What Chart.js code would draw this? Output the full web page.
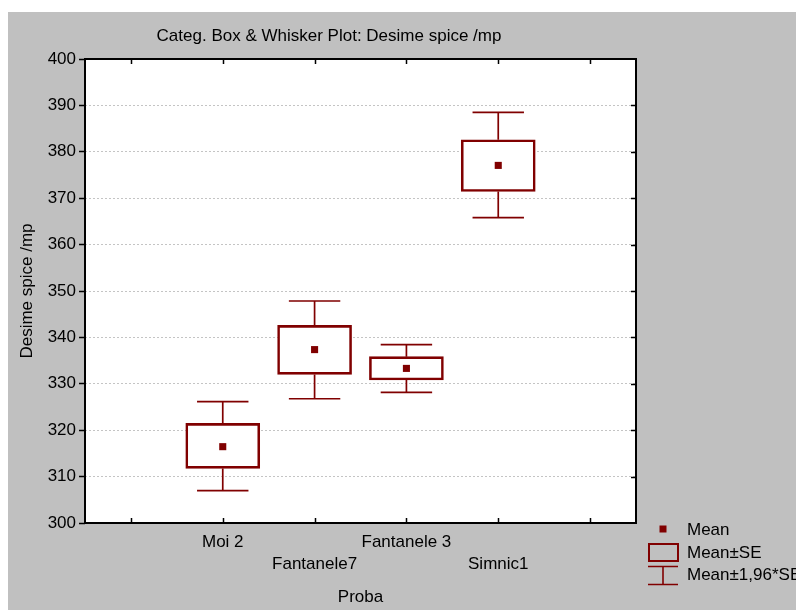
<!DOCTYPE html>
<html><head><meta charset="utf-8">
<script src="https://cdn.jsdelivr.net/npm/chart.js@4/dist/chart.umd.min.js"></script>
<style>html,body{margin:0;padding:0;background:#fff;overflow:hidden}#wrap{position:absolute;left:0;top:0;width:796px;height:610px}</style>
</head><body><div id="wrap"><canvas id="c" width="796" height="610"></canvas></div>
<script>
// ---- data ----
const categories = ['Moi 2', 'Fantanele7', 'Fantanele 3', 'Simnic1'];
const categoryPositions = [1, 2, 3, 4];
const means  = [316.45, 337.37, 333.32, 377.07];
const seLow  = [311.77, 332.03, 330.82, 371.45];
const seHigh = [321.47, 342.59, 335.84, 382.60];
const ciLow  = [306.96, 326.78, 328.15, 365.80];
const ciHigh = [326.14, 347.84, 338.43, 388.49];
const xTickValues = [0, 1, 2, 3, 4, 5];
const yMin = 300, yMax = 400, yStep = 10;
const xMin = -0.5, xMax = 5.5;
const titleText = 'Categ. Box & Whisker Plot: Desime spice /mp';
const yTitle = 'Desime spice /mp';
const xTitle = 'Proba';
const legendLabels = ['Mean', 'Mean±SE', 'Mean±1,96*SE'];

// ---- styles ----
const RED = '#800000';
const GRAY = '#c0c0c0';
const FONT = "'Liberation Sans', Arial, sans-serif";
const capHalf = 0.28;

Chart.defaults.font.family = FONT;
Chart.defaults.font.size = 17;
Chart.defaults.color = '#000';

const boxData = categoryPositions.map((x, i) => ({x: x, y: [seLow[i], seHigh[i]]}));
const meanData = categoryPositions.map((x, i) => ({x: x, y: means[i]}));
const whiskerData = [];
categoryPositions.forEach((x, i) => {
  whiskerData.push(
    {x: x - capHalf, y: ciHigh[i]}, {x: x + capHalf, y: ciHigh[i]}, {x: x, y: null},
    {x: x, y: ciHigh[i]}, {x: x, y: seHigh[i]}, {x: x, y: null},
    {x: x, y: seLow[i]}, {x: x, y: ciLow[i]}, {x: x, y: null},
    {x: x - capHalf, y: ciLow[i]}, {x: x + capHalf, y: ciLow[i]}, {x: x, y: null}
  );
});

const framePlugin = {
  id: 'frame',
  beforeDraw(chart) {
    const {ctx, chartArea: a} = chart;
    ctx.save();
    ctx.fillStyle = '#fff';
    ctx.fillRect(0, 0, chart.width, chart.height);
    ctx.fillStyle = GRAY;
    ctx.fillRect(8, 12, chart.width - 8, chart.height - 12);
    ctx.fillStyle = '#fff';
    ctx.fillRect(a.left, a.top, a.right - a.left, a.bottom - a.top);
    ctx.restore();
  },
  afterDraw(chart) {
    const {ctx, chartArea: a} = chart;
    ctx.save();
    // plot frame
    ctx.strokeStyle = '#000';
    ctx.lineWidth = 2;
    ctx.strokeRect(a.left, a.top, a.right - a.left, a.bottom - a.top);
    // inward ticks
    ctx.lineWidth = 1.5;
    ctx.beginPath();
    chart.scales.x.ticks.forEach(t => {
      if (t.value > xMin && t.value < xMax) {
        const px = Math.round(chart.scales.x.getPixelForValue(t.value)) + 0.5;
        ctx.moveTo(px, a.top); ctx.lineTo(px, a.top + 5);
        ctx.moveTo(px, a.bottom); ctx.lineTo(px, a.bottom - 5);
      }
    });
    chart.scales.y.ticks.forEach(t => {
      if (t.value > yMin && t.value < yMax) {
        const py = Math.round(chart.scales.y.getPixelForValue(t.value)) + 0.5;
        ctx.moveTo(a.right, py); ctx.lineTo(a.right - 5, py);
      }
    });
    ctx.stroke();
    // title
    ctx.fillStyle = '#000';
    ctx.font = '17px ' + FONT;
    ctx.textAlign = 'center';
    ctx.textBaseline = 'alphabetic';
    ctx.fillText(titleText, 329, 41);
    // legend
    const lx = 663, tx = 687;
    ctx.fillStyle = RED;
    ctx.fillRect(lx - 3.5, 525.5, 7, 7);
    ctx.strokeStyle = RED;
    ctx.lineWidth = 2;
    ctx.strokeRect(649, 544, 29, 17);
    ctx.lineWidth = 1.6;
    ctx.beginPath();
    ctx.moveTo(648, 566.5); ctx.lineTo(678, 566.5);
    ctx.moveTo(648, 584.5); ctx.lineTo(678, 584.5);
    ctx.moveTo(lx, 566.5); ctx.lineTo(lx, 584.5);
    ctx.stroke();
    ctx.fillStyle = '#000';
    ctx.textAlign = 'left';
    ctx.textBaseline = 'middle';
    ctx.fillText(legendLabels[0], tx, 530);
    ctx.fillText(legendLabels[1], tx, 553);
    ctx.fillText(legendLabels[2], tx, 575);
    ctx.restore();
  }
};

new Chart(document.getElementById('c'), {
  type: 'bar',
  data: {
    datasets: [
      {
        type: 'scatter', label: legendLabels[0], data: meanData, order: 0,
        pointStyle: 'rect', pointRadius: 5, pointBorderWidth: 0,
        backgroundColor: RED, borderColor: RED
      },
      {
        type: 'line', label: legendLabels[2], data: whiskerData, order: 1,
        borderColor: RED, borderWidth: 1.7, pointRadius: 0, spanGaps: false,
        tension: 0, fill: false
      },
      {
        type: 'bar', label: legendLabels[1], data: boxData, order: 2,
        backgroundColor: '#fff', borderColor: RED, borderWidth: 2.6,
        borderSkipped: false, barThickness: 74, grouped: false
      }
    ]
  },
  options: {
    responsive: false,
    animation: false,
    devicePixelRatio: 1,
    layout: {padding: {left: 0, top: 59, right: 160, bottom: 0}},
    plugins: {legend: {display: false}, tooltip: {enabled: false}, title: {display: false}},
    events: [],
    scales: {
      x: {
        type: 'linear', min: xMin, max: xMax, offset: false,
        grid: {display: false, drawTicks: false, offset: false},
        border: {display: false},
        afterBuildTicks: (s) => { s.ticks = xTickValues.map(v => ({value: v})); },
        ticks: {
          autoSkip: false, maxRotation: 0, minRotation: 0, padding: 8,
          font: {size: 17, lineHeight: 1.3},
          callback: (v) => {
            const i = categoryPositions.indexOf(v);
            if (i < 0) return '';
            return i % 2 === 0 ? categories[i] : ['', categories[i]];
          }
        },
        title: {display: true, text: xTitle, font: {size: 17}, padding: {top: 0, bottom: 2}},
        afterFit: (s) => { s.height = 87; }
      },
      y: {
        type: 'linear', min: yMin, max: yMax,
        grid: {display: true, color: '#c4c4c4', lineWidth: 1, drawTicks: true, tickLength: 6,
               tickColor: '#000', tickWidth: 1.5, tickBorderDash: []},
        border: {display: false, dash: [2, 2]},
        ticks: {stepSize: yStep, padding: 3, font: {size: 17}},
        title: {display: true, text: yTitle, font: {size: 17}, padding: {top: 17, bottom: 0}},
        afterFit: (s) => { s.width = 85; }
      }
    }
  },
  plugins: [framePlugin]
});
</script>
</body></html>
